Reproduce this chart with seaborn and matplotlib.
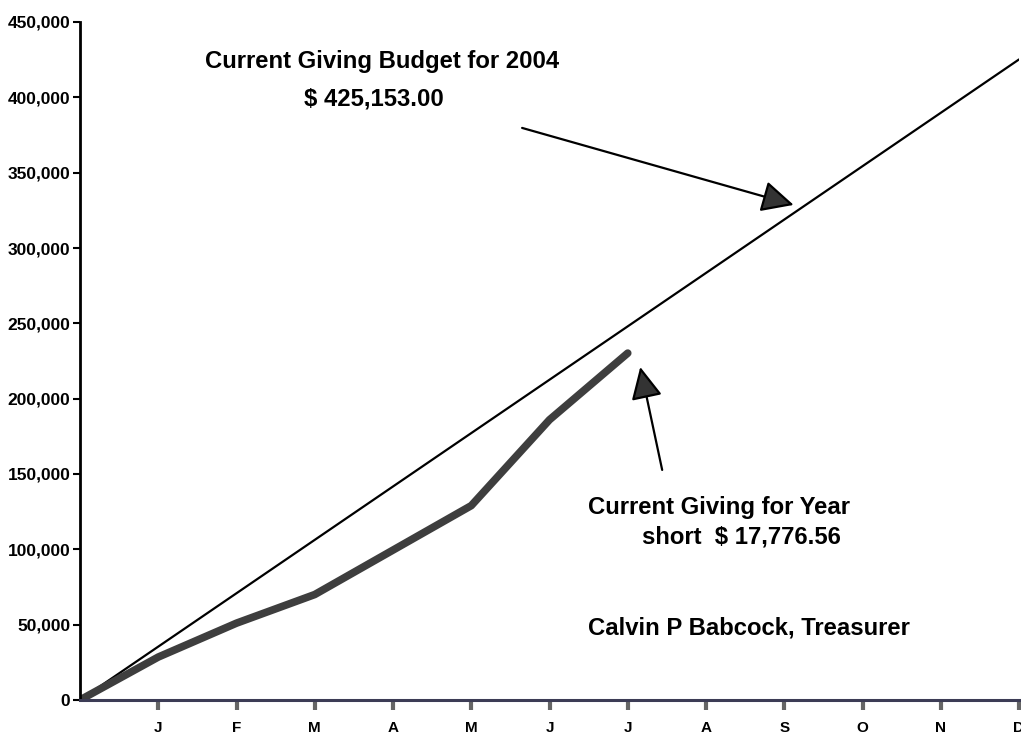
"""
Current giving vs budget, 2004
"""

import numpy as np
import pandas as pd
import matplotlib
matplotlib.use("Agg")
import matplotlib.pyplot as plt
import seaborn as sns
from matplotlib.ticker import FuncFormatter

# data
month_labels = ['J', 'F', 'M', 'A', 'M', 'J', 'J', 'A', 'S', 'O', 'N', 'D']
budget_months = [0, 12]
budget_values = [0, 425153]
actual_months = [0, 1, 2, 3, 4, 5, 6, 7]
actual_values = [0, 28500, 51000, 70000, 99500, 129000, 186000, 230229]
y_ticks = [0, 50000, 100000, 150000, 200000, 250000, 300000, 350000, 400000, 450000]

df_budget = pd.DataFrame({'month': budget_months, 'amount': budget_values})
df_actual = pd.DataFrame({'month': actual_months, 'amount': actual_values})

sns.set_style("ticks")
plt.rcParams['font.family'] = ['Liberation Sans', 'DejaVu Sans']
plt.rcParams['text.color'] = 'black'
plt.rcParams['xtick.color'] = 'black'
plt.rcParams['ytick.color'] = 'black'

fig = plt.figure(figsize=(10.21, 7.35), dpi=100)
ax = fig.add_axes([80 / 1021, 35 / 735, 939 / 1021, 678 / 735])

sns.lineplot(data=df_budget, x='month', y='amount', color='black', linewidth=1.6, ax=ax)
sns.lineplot(data=df_actual, x='month', y='amount', color='#3e3e3e', linewidth=5.5,
             solid_capstyle='round', ax=ax)

ax.set_xlim(0, 12)
ax.set_ylim(0, 450000)
ax.set_xticks(range(1, 13))
ax.set_xticklabels(month_labels, fontsize=11, fontweight='bold')
ax.set_yticks(y_ticks)
ax.yaxis.set_major_formatter(FuncFormatter(lambda v, p: f"{int(v):,}"))
for lab in ax.get_yticklabels():
    lab.set_fontsize(12.5)
    lab.set_fontweight('bold')
ax.set_xlabel('')
ax.set_ylabel('')

sns.despine(ax=ax)
ax.spines['left'].set_linewidth(2)
ax.spines['left'].set_color('black')
ax.spines['bottom'].set_linewidth(2.2)
ax.spines['bottom'].set_color('#3c3c55')
ax.tick_params(axis='x', length=7, width=3, color='#666666', pad=8)
ax.tick_params(axis='y', length=5, width=1.5, color='black', pad=2)

arrow_style = dict(arrowstyle='-|>,head_length=0.55,head_width=0.27', color='black',
                   lw=1.6, mutation_scale=36, fc='#333333', shrinkA=0, shrinkB=0)

# annotations
ax.text(3.86, 424000, 'Current Giving Budget for 2004', ha='center', va='center',
        fontsize=17.2, fontweight='bold')
ax.text(3.76, 399000, '$ 425,153.00', ha='center', va='center',
        fontsize=17.2, fontweight='bold')
ax.annotate('', xy=(9.12, 328600), xytext=(5.65, 379700), arrowprops=arrow_style)

ax.text(6.49, 127500, 'Current Giving for Year', ha='left', va='center',
        fontsize=17.2, fontweight='bold')
ax.text(7.18, 108000, 'short  $ 17,776.56', ha='left', va='center',
        fontsize=17.2, fontweight='bold')
ax.annotate('', xy=(7.16, 221000), xytext=(7.44, 152700), arrowprops=arrow_style)

ax.text(6.49, 47800, 'Calvin P Babcock, Treasurer', ha='left', va='center',
        fontsize=17.2, fontweight='bold')

fig.savefig('out.png', dpi=100)
